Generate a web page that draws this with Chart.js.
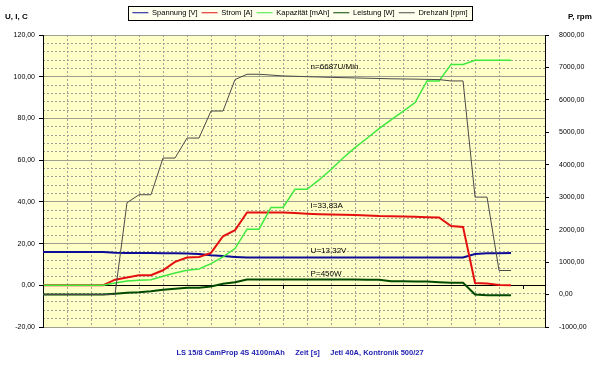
<!DOCTYPE html>
<html><head><meta charset="utf-8">
<script src="https://cdn.jsdelivr.net/npm/chart.js@4/dist/chart.umd.min.js"></script>
<style>html,body{margin:0;padding:0;background:#fff;}canvas{display:block;}</style>
</head><body>
<canvas id="c" width="600" height="374"></canvas>
<script>
// ---- data ----
const zeit = [0,1,2,3,4,5,6,7,8,9,10,11,12,13,14,15,16,17,18,19,20,21,22,23,24,25,26,27,28,29,30,31,32,33,34,35,36,37,38,39];
const spannung = [16.0,16.0,16.0,16.0,16.0,16.0,15.6,15.5,15.5,15.5,15.4,15.3,15.2,15.0,14.4,14.0,13.6,13.3,13.3,13.3,13.3,13.3,13.3,13.3,13.3,13.3,13.3,13.3,13.3,13.3,13.3,13.3,13.3,13.3,13.3,13.3,15.0,15.3,15.4,15.5];
const strom = [0,0,0,0,0,0,2.7,3.7,4.8,4.8,7.2,11.2,13.3,13.6,15.5,23.5,26.4,34.9,34.9,34.9,34.9,34.6,34.3,34.1,33.9,33.8,33.7,33.5,33.2,33.1,33.0,32.8,32.6,32.5,28.4,28.0,1.1,0.8,0.1,0];
const kapazitaet = [0,0,0,0,0,0,1.1,2.1,2.4,2.7,4.3,5.9,7.2,7.8,10.4,13.6,17.6,26.9,26.9,37.3,37.3,46.0,46.0,50.5,55.5,61.0,66.0,70.5,75.1,79.3,83.4,87.6,98.0,98.0,105.9,105.9,107.9,107.9,107.9,107.9];
const leistung = [0,0,0,0,0,0,22,52,71,102,145,176,207,207,247,330,380,463,463,463,463,463,463,463,463,463,463,460,454,410,408,405,403,380,361,361,0,-25,-25,-25];
const drehzahl = [0,0,0,0,0,0,0,2830,3077,3077,4207,4207,4824,4824,5657,5657,6626,6790,6790,6765,6738,6728,6715,6705,6695,6685,6677,6668,6660,6650,6645,6640,6632,6626,6584,6584,3003,3003,741,741];
const seriesNames = ['Spannung [V]','Strom [A]','Kapazität [mAh]','Leistung [W]','Drehzahl [rpm]'];
const labelTexts = ['n=6687U/Min','I=33,83A','U=13,32V','P=450W'];
const labelAnchorsX = [22.3,22.3,22.3,22.3];
const labelAnchorsY = [104.6,37.9,16.3,5.7];
const bottomText = 'LS 15/8 CamProp 4S 4100mAh     Zeit [s]     Jeti 40A, Kontronik 500/27';

// ---- chart ----
Chart.defaults.font.family = 'Arial, "Liberation Sans", Helvetica, sans-serif';
Chart.defaults.color = '#000';
const xMax = 41.83;
const fmt = v => Number(v).toFixed(2).replace('.', ',');
const pts = ys => zeit.map((t, i) => ({x: t, y: ys[i]}));
const isMult = (v, m) => Math.abs(v / m - Math.round(v / m)) < 1e-6;

const styles = [
  {c: '#0c0c96', w: 2, ax: 'y', order: 5},
  {c: '#e41010', w: 2, ax: 'y', order: 4},
  {c: '#3ee83e', w: 1.5, ax: 'y', order: 3},
  {c: '#004a00', w: 2, ax: 'y2', order: 2},
  {c: '#4a4a4a', w: 1, ax: 'y2', order: 1}
];
const values = [spannung, strom, kapazitaet, leistung, drehzahl];

const decor = {
  id: 'decor',
  beforeDraw(chart) {
    const {ctx, chartArea: a} = chart;
    ctx.save();
    ctx.fillStyle = '#ffffc8';
    ctx.fillRect(a.left, a.top, a.right - a.left, a.bottom - a.top);
    const hb = chart.legend && chart.legend.legendHitBoxes;
    if (hb && hb.length) {
      let l = Infinity, r = -Infinity, t = Infinity, b = -Infinity;
      hb.forEach(h => { l = Math.min(l, h.left); r = Math.max(r, h.left + h.width); t = Math.min(t, h.top); b = Math.max(b, h.top + h.height); });
      l = Math.round(l - 4); r = Math.round(r + 4); t = Math.round(t - 3); b = Math.round(b + 3);
      ctx.fillStyle = '#ffffee';
      ctx.fillRect(l, t, r - l, b - t);
      ctx.strokeStyle = '#000'; ctx.lineWidth = 1;
      ctx.strokeRect(l + 0.5, t + 0.5, r - l, b - t);
    }
    ctx.restore();
  },
  afterDatasetsDraw(chart) {
    const {ctx, scales} = chart;
    ctx.save();
    ctx.strokeStyle = '#000'; ctx.lineWidth = 1;
    const y0 = Math.round(scales.y.getPixelForValue(0));
    [0, 20, 40].forEach(v => {
      const px = Math.round(scales.x.getPixelForValue(v)) + 0.5;
      ctx.beginPath(); ctx.moveTo(px, y0); ctx.lineTo(px, y0 + 4); ctx.stroke();
    });
    ctx.fillStyle = '#000';
    ctx.font = '8px Arial, "Liberation Sans", sans-serif';
    ctx.textAlign = 'left'; ctx.textBaseline = 'middle';
    labelTexts.forEach((t, i) => {
      ctx.fillText(t, scales.x.getPixelForValue(labelAnchorsX[i]), scales.y.getPixelForValue(labelAnchorsY[i]));
    });
    ctx.font = 'bold 8px Arial, "Liberation Sans", sans-serif';
    ctx.fillText('U, I, C', 5, 17);
    ctx.fillText('P, rpm', 568, 17);
    ctx.restore();
  }
};

new Chart(document.getElementById('c'), {
  type: 'line',
  data: {
    datasets: seriesNames.map((n, i) => ({
      label: n, data: pts(values[i]),
      borderColor: styles[i].c, backgroundColor: styles[i].c,
      borderWidth: styles[i].w, pointRadius: 0, tension: 0,
      xAxisID: 'x', yAxisID: styles[i].ax, order: styles[i].order
    }))
  },
  options: {
    responsive: false, animation: false, devicePixelRatio: 1,
    layout: {padding: {top: 5, left: 0, right: 0, bottom: 0}},
    plugins: {
      tooltip: {enabled: false},
      legend: {position: 'top', labels: {usePointStyle: true, pointStyle: 'line', pointStyleWidth: 16,
        font: {size: 7.5}, padding: 4, color: '#000', sort: (a, b) => a.datasetIndex - b.datasetIndex,
        generateLabels: chart => Chart.defaults.plugins.legend.labels.generateLabels(chart).map(it => Object.assign(it, {lineWidth: 1.2}))}},
      title: {display: true, position: 'bottom', text: bottomText, color: '#1c1cb0',
        font: {size: 7.5, weight: 'bold'}, padding: {top: 0, bottom: 16.5}}
    },
    scales: {
      x: {type: 'linear', position: 'bottom', min: 0, max: xMax,
        ticks: {display: false, stepSize: 2},
        grid: {drawTicks: false, lineWidth: 1,
          color: c => (c.tick && c.tick.value > 0 && isMult(c.tick.value, 2)) ? '#a0a098' : 'rgba(0,0,0,0)'},
        border: {display: false, dash: [2, 2]},
        afterFit: s => { s.height = 21.5; }},
      xTop: {type: 'linear', position: 'top', min: 0, max: xMax,
        ticks: {display: false}, grid: {display: false}, border: {display: false},
        afterFit: s => { s.height = 8.5; }},
      y: {type: 'linear', position: 'left', min: -20, max: 120,
        ticks: {stepSize: 20, font: {size: 7}, padding: 4, callback: fmt},
        grid: {color: c => (c.tick && c.tick.value === 0) ? '#000' : '#a0a090', drawTicks: true, tickLength: 4, tickColor: '#000'},
        border: {color: '#000', width: 1},
        afterFit: s => { s.width = 43; }},
      yMinor: {type: 'linear', position: 'left', min: -20, max: 120,
        ticks: {display: false, stepSize: 4},
        grid: {drawTicks: false, color: c => (c.tick && !isMult(c.tick.value, 20)) ? '#a0a098' : 'rgba(0,0,0,0)'},
        border: {display: false, dash: [2, 2]},
        afterFit: s => { s.width = 0; }},
      y2: {type: 'linear', position: 'right', min: -1000, max: 8000,
        ticks: {stepSize: 1000, font: {size: 7}, padding: 10, callback: fmt},
        grid: {drawOnChartArea: false, drawTicks: true, tickLength: 4, tickColor: '#000'},
        border: {color: '#000', width: 1},
        afterFit: s => { s.width = 55; }}
    }
  },
  plugins: [decor]
});
</script>
</body></html>
